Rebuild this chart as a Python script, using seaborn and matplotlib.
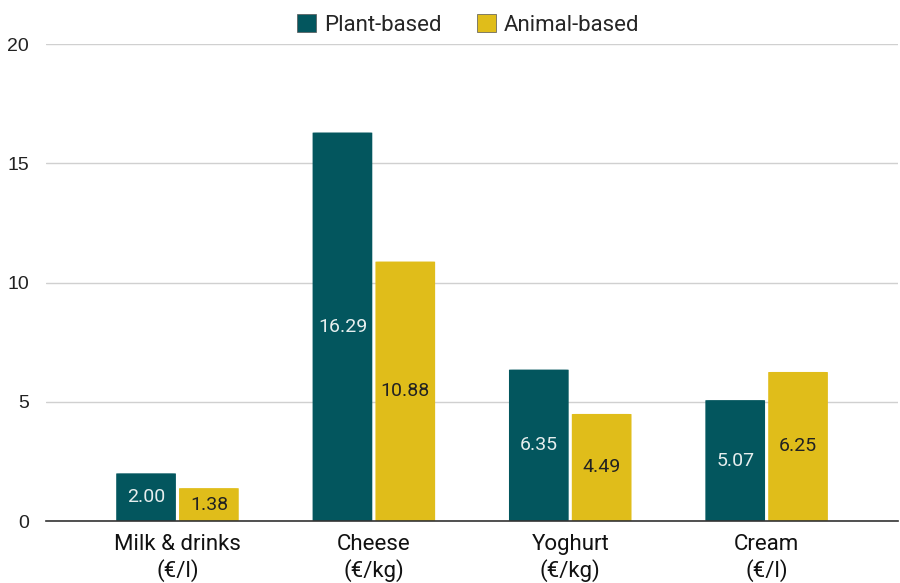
import matplotlib
matplotlib.use("Agg")
import matplotlib.pyplot as plt
import pandas as pd
import seaborn as sns
from matplotlib.patches import FancyBboxPatch

CATEGORIES = ["Milk & drinks\n(€/l)", "Cheese\n(€/kg)", "Yoghurt\n(€/kg)", "Cream\n(€/l)"]
PLANT = [2.00, 16.29, 6.35, 5.07]
ANIMAL = [1.38, 10.88, 4.49, 6.25]
SERIES = ["Plant-based", "Animal-based"]
COLORS = {"Plant-based": "#03565E", "Animal-based": "#E0BD1A"}
LABEL_COLORS = {"Plant-based": "#E6EEEE", "Animal-based": "#222222"}

df = pd.DataFrame({
    "category": CATEGORIES * 2,
    "series": [SERIES[0]] * len(PLANT) + [SERIES[1]] * len(ANIMAL),
    "price": PLANT + ANIMAL,
})

sns.set_theme(style="white")
plt.rcParams["font.family"] = ["Roboto", "DejaVu Sans"]

fig = plt.figure(figsize=(9, 5.83), dpi=100)
ax = fig.add_axes([0.051, 0.1063, 0.947, 0.8182])

sns.barplot(data=df, x="category", y="price", hue="series", palette=COLORS,
            width=0.64, gap=0.05, ax=ax, legend=False, saturation=1)

# swap rectangles for slightly rounded ones, then label in the middle
for container, name in zip(ax.containers, SERIES):
    for rect in container:
        x, y = rect.get_x(), rect.get_y()
        w, h = rect.get_width(), rect.get_height()
        rect.set_visible(False)
        ax.add_patch(FancyBboxPatch((x, y), w, h,
                                    boxstyle="round,pad=0,rounding_size=0.02",
                                    mutation_aspect=0.45,
                                    facecolor=COLORS[name], edgecolor="none", zorder=2))
        ax.text(x + w / 2, y + h / 2, f"{h:.2f}", ha="center", va="center",
                fontsize=14, color=LABEL_COLORS[name], zorder=3)

ax.set_xlim(-0.67, 3.67)
ax.set_ylim(0, 20)
ax.set_yticks([0, 5, 10, 15, 20])
ax.yaxis.grid(True, color="#d0d0d0", linewidth=1)
ax.set_axisbelow(True)
for side in ["top", "right", "left"]:
    ax.spines[side].set_visible(False)
ax.spines["bottom"].set_color("#333333")
ax.spines["bottom"].set_linewidth(1.2)
ax.set_xlabel("")
ax.set_ylabel("")
ax.tick_params(axis="x", length=0, labelsize=16, colors="#111111", pad=9)
ax.tick_params(axis="y", length=0, labelsize=14, colors="#222222", pad=12)
for lbl in ax.get_xticklabels():
    lbl.set_linespacing(1.25)
for lbl in ax.get_yticklabels():
    lbl.set_fontfamily(["Liberation Sans", "DejaVu Sans"])

handles = [FancyBboxPatch((0, 0), 1, 1, boxstyle="round,pad=0,rounding_size=0.2",
                          facecolor=COLORS[s], edgecolor="#555555", linewidth=0.5)
           for s in SERIES]
fig.legend(handles, SERIES, loc="upper center", bbox_to_anchor=(0.52, 1.01), ncol=2,
           frameon=False, fontsize=16, handlelength=0.85, handleheight=0.85,
           handletextpad=0.35, columnspacing=1.6)

fig.savefig("out.png", dpi=100)
